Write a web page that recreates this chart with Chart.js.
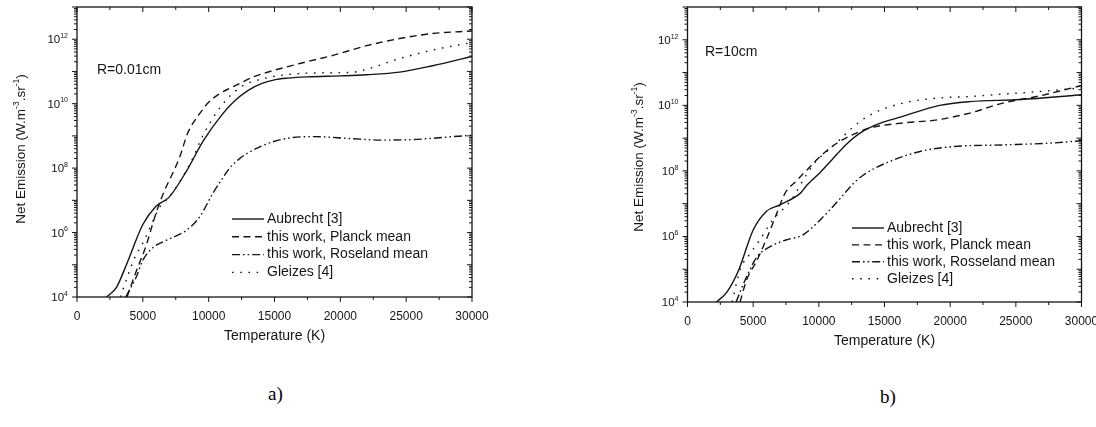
<!DOCTYPE html>
<html>
<head>
<meta charset="utf-8">
<script src="https://cdn.jsdelivr.net/npm/chart.js@4.4.0/dist/chart.umd.min.js"></script>
<style>
  html, body { margin: 0; padding: 0; background: #fff; }
  body { width: 1096px; height: 427px; position: relative; overflow: hidden; }
  .box { position: absolute; top: 0; height: 360px; }
  #boxA { left: 0; width: 560px; }
  #boxB { left: 560px; width: 536px; }
  .caption { position: absolute; font-family: "Liberation Serif", "Times New Roman", serif; font-size: 19px; color: #000; }
</style>
</head>
<body>
<div class="box" id="boxA"><canvas id="chartA" width="560" height="360"></canvas></div>
<div class="box" id="boxB"><canvas id="chartB" width="536" height="360"></canvas></div>
<div class="caption" style="left:268px; top:383px;">a)</div>
<div class="caption" style="left:880px; top:386px;">b)</div>

<script>
// --- data (temperature in K, net emission in W.m-3.sr-1) ---

// a) R = 0.01 cm
const tAubrechtA = [2250, 3000, 3800, 5000, 6000, 7000, 8300, 9600, 11000, 12000, 13000, 14000, 15000, 16000, 17500, 20000, 22000, 24500, 27000, 30000];
const vAubrechtA = [1.0e4, 2.0e4, 1.12e5, 1.78e6, 6.6e6, 1.26e7, 7.9e7, 7.1e8, 4.5e9, 1.25e10, 2.6e10, 4.2e10, 5.5e10, 6.2e10, 6.8e10, 7.3e10, 7.9e10, 9.5e10, 1.5e11, 2.9e11];
const tPlanckA = [3800, 4500, 5300, 5800, 6300, 6600, 7800, 8400, 9300, 10000, 10800, 11600, 12400, 13400, 14400, 17000, 19500, 22000, 24500, 27000, 30000];
const vPlanckA = [1.0e4, 6.3e4, 4.5e5, 2.2e6, 8.9e6, 1.8e7, 2.2e8, 1.2e9, 4.8e9, 1.1e10, 2.0e10, 3.0e10, 4.3e10, 6.8e10, 9.3e10, 1.8e11, 3.2e11, 6.3e11, 1.05e12, 1.5e12, 1.8e12];
const tRosselandA = [3700, 4500, 5000, 5800, 6800, 8300, 9300, 10300, 11000, 11600, 12300, 13000, 14000, 15000, 16400, 18000, 20700, 23300, 25800, 28300, 30000];
const vRosselandA = [1.0e4, 4.2e4, 1.38e5, 3.5e5, 5.8e5, 1.17e6, 3.0e6, 1.6e7, 4.5e7, 1.0e8, 1.9e8, 3.0e8, 4.8e8, 6.8e8, 8.9e8, 9.5e8, 8.3e8, 7.4e8, 7.8e8, 9.3e8, 1.05e9];
const tGleizesA = [3300, 4300, 5000, 5700, 6300, 7000, 8600, 9600, 10900, 12400, 14400, 16400, 19000, 21000, 22000, 24500, 27000, 30000];
const vGleizesA = [1.0e4, 1.4e5, 4.7e5, 1.95e6, 6.3e6, 1.26e7, 1.4e8, 1.1e9, 7.9e9, 3.2e10, 6.3e10, 8.3e10, 9.1e10, 9.5e10, 1.17e11, 2.5e11, 4.6e11, 7.9e11];

// b) R = 10 cm
const tAubrechtB = [2200, 3000, 3900, 5000, 6000, 7000, 8600, 9100, 10100, 11000, 12200, 13100, 14200, 16400, 19200, 21500, 25300, 30000];
const vAubrechtB = [1.0e4, 2.0e4, 9.5e4, 1.58e6, 5.8e6, 9.1e6, 2.1e7, 3.7e7, 8.9e7, 2.2e8, 7.1e8, 1.4e9, 2.4e9, 4.6e9, 1.0e10, 1.3e10, 1.5e10, 2.1e10];
const tPlanckB = [4000, 4500, 5300, 6300, 6800, 7400, 8300, 9100, 10100, 11400, 13100, 14000, 16400, 19000, 21500, 24000, 26600, 30000];
const vPlanckB = [1.0e4, 4.7e4, 1.9e5, 1.58e6, 5.1e6, 2.0e7, 5.0e7, 1.07e8, 2.75e8, 7.1e8, 1.58e9, 2.1e9, 2.9e9, 3.6e9, 5.8e9, 1.17e10, 1.86e10, 4.0e10];
const tRosselandB = [3700, 4500, 5300, 6300, 7500, 8800, 10100, 11600, 12600, 13400, 15200, 17700, 20200, 24000, 27800, 30000];
const vRosselandB = [1.0e4, 5.9e4, 2.4e5, 4.9e5, 7.8e5, 1.12e6, 3.2e6, 1.4e7, 4.0e7, 7.5e7, 1.8e8, 3.9e8, 5.5e8, 6.2e8, 7.1e8, 8.3e8];
const tGleizesB = [3400, 4000, 4800, 5500, 6500, 7900, 9000, 9800, 10800, 11600, 12500, 13900, 16400, 19000, 21500, 24000, 26600, 30000];
const vGleizesB = [1.0e4, 9.5e4, 3.1e5, 7.8e5, 3.2e6, 1.3e7, 7.0e7, 2.0e8, 4.5e8, 9.0e8, 2.0e9, 5.1e9, 1.17e10, 1.66e10, 1.86e10, 2.2e10, 2.6e10, 3.4e10];

// axes
const xLabels = [0, 5000, 10000, 15000, 20000, 25000, 30000];
const xMinorTicks = [2500, 7500, 12500, 17500, 22500, 27500];
const yLabelExponents = [4, 6, 8, 10, 12];
const yDecades = [4, 5, 6, 7, 8, 9, 10, 11, 12, 13];

const FONT = '"Liberation Sans", Arial, sans-serif';
const INK = '#151515';

const lineStyles = {
  solid: [],
  dashed: [7, 4.5],
  dashDotDot: [8, 3, 1.6, 3, 1.6, 3],
  dotted: [1.6, 6.6]
};

// text with superscripts; parts = [[text, isSup], ...]
const drawRich = (ctx, parts, x, y, size, supSize, align) => {
  const widths = parts.map(([txt, sup]) => {
    ctx.font = `${sup ? supSize : size}px ${FONT}`;
    return ctx.measureText(txt).width;
  });
  const total = widths.reduce((a, b) => a + b, 0);
  let cx = align === 'right' ? x - total : align === 'center' ? x - total / 2 : x;
  ctx.textBaseline = 'alphabetic';
  ctx.textAlign = 'left';
  parts.forEach(([txt, sup], i) => {
    ctx.font = `${sup ? supSize : size}px ${FONT}`;
    ctx.fillText(txt, cx, sup ? y - size * 0.45 : y);
    cx += widths[i];
  });
};

// frame, ticks, labels and legend drawn on top, placed with the chart's scales
const framePlugin = {
  id: 'frame',
  afterDraw(chart, args, opts) {
    const { ctx, chartArea: a, scales } = chart;
    const xs = scales.x, ys = scales.y;
    ctx.save();
    ctx.strokeStyle = INK;
    ctx.fillStyle = INK;
    ctx.lineWidth = 1.3;
    ctx.setLineDash([]);
    ctx.strokeRect(a.left, a.top, a.right - a.left, a.bottom - a.top);

    ctx.lineWidth = 1;
    ctx.beginPath();
    // x ticks: bottom outward, top inward
    xLabels.forEach(v => {
      const px = xs.getPixelForValue(v);
      ctx.moveTo(px, a.bottom); ctx.lineTo(px, a.bottom + 5);
      ctx.moveTo(px, a.top); ctx.lineTo(px, a.top + 5);
    });
    xMinorTicks.forEach(v => {
      const px = xs.getPixelForValue(v);
      ctx.moveTo(px, a.bottom); ctx.lineTo(px, a.bottom + 3);
      ctx.moveTo(px, a.top); ctx.lineTo(px, a.top + 3);
    });
    // y ticks: left outward, right inward
    yDecades.forEach(e => {
      const py = ys.getPixelForValue(Math.pow(10, e));
      ctx.moveTo(a.left - 5, py); ctx.lineTo(a.left, py);
      ctx.moveTo(a.right - 5, py); ctx.lineTo(a.right, py);
      if (e < 13) {
        for (let m = 2; m <= 9; m++) {
          const pm = ys.getPixelForValue(m * Math.pow(10, e));
          ctx.moveTo(a.left - 3, pm); ctx.lineTo(a.left, pm);
          ctx.moveTo(a.right - 3, pm); ctx.lineTo(a.right, pm);
        }
      }
    });
    ctx.stroke();

    // tick labels
    ctx.font = `12px ${FONT}`;
    ctx.textAlign = 'center';
    ctx.textBaseline = 'middle';
    xLabels.forEach(v => ctx.fillText(String(v), xs.getPixelForValue(v), a.bottom + 20));
    yLabelExponents.forEach(e => {
      const py = ys.getPixelForValue(Math.pow(10, e));
      drawRich(ctx, [['10', false], [String(e), true]], a.left - 9, py + 4, 11.5, 7, 'right');
    });

    // axis titles
    ctx.font = `14px ${FONT}`;
    ctx.textAlign = 'center';
    ctx.textBaseline = 'middle';
    ctx.fillText('Temperature (K)', (a.left + a.right) / 2, opts.xTitleY);
    ctx.save();
    ctx.translate(opts.yTitleX, opts.yTitleY);
    ctx.rotate(-Math.PI / 2);
    drawRich(ctx, [['Net Emission (W.m', false], ['-3', true], ['.sr', false], ['-1', true], [')', false]], 0, 5, 13.5, 8.5, 'center');
    ctx.restore();

    // radius label
    ctx.font = `14px ${FONT}`;
    ctx.textAlign = 'left';
    ctx.textBaseline = 'middle';
    ctx.fillText(opts.radius, opts.radiusX, opts.radiusY);

    // legend
    chart.data.datasets.forEach((ds, i) => {
      const y = opts.legendY + i * opts.legendStep;
      ctx.lineWidth = ds.borderWidth;
      ctx.setLineDash(ds.borderDash);
      ctx.beginPath();
      ctx.moveTo(opts.legendX, y);
      ctx.lineTo(opts.legendX + 32, y);
      ctx.stroke();
      ctx.setLineDash([]);
      ctx.fillText(ds.label, opts.legendX + 35, y);
    });
    ctx.restore();
  }
};

const makeSeries = (label, temps, vals, dash) => ({
  label,
  data: temps.map((t, i) => ({ x: t, y: vals[i] })),
  borderColor: INK,
  borderWidth: 1.4,
  borderDash: dash,
  pointRadius: 0,
  fill: false,
  cubicInterpolationMode: 'monotone'
});

const makeChart = (canvasId, datasets, pad, extra) => new Chart(document.getElementById(canvasId), {
  type: 'line',
  data: { datasets },
  options: {
    responsive: false,
    animation: false,
    layout: { padding: pad },
    scales: {
      x: { type: 'linear', min: 0, max: 30000, display: false },
      y: { type: 'logarithmic', min: 1e4, max: 1e13, display: false }
    },
    plugins: {
      legend: { display: false },
      tooltip: { enabled: false },
      frame: extra
    }
  },
  plugins: [framePlugin]
});

makeChart('chartA', [
  makeSeries('Aubrecht [3]', tAubrechtA, vAubrechtA, lineStyles.solid),
  makeSeries('this work, Planck mean', tPlanckA, vPlanckA, lineStyles.dashed),
  makeSeries('this work, Roseland mean', tRosselandA, vRosselandA, lineStyles.dashDotDot),
  makeSeries('Gleizes [4]', tGleizesA, vGleizesA, lineStyles.dotted)
], { left: 77, right: 88, top: 7, bottom: 63 }, {
  xTitleY: 336, yTitleX: 20, yTitleY: 149,
  radius: 'R=0.01cm', radiusX: 97, radiusY: 70,
  legendX: 232, legendY: 219, legendStep: 17.8
});

makeChart('chartB', [
  makeSeries('Aubrecht [3]', tAubrechtB, vAubrechtB, lineStyles.solid),
  makeSeries('this work, Planck mean', tPlanckB, vPlanckB, lineStyles.dashed),
  makeSeries('this work, Rosseland mean', tRosselandB, vRosselandB, lineStyles.dashDotDot),
  makeSeries('Gleizes [4]', tGleizesB, vGleizesB, lineStyles.dotted)
], { left: 127.5, right: 14.5, top: 7, bottom: 58 }, {
  xTitleY: 341, yTitleX: 78, yTitleY: 157,
  radius: 'R=10cm', radiusX: 145, radiusY: 52,
  legendX: 292, legendY: 228, legendStep: 16.9
});
</script>
</body>
</html>
